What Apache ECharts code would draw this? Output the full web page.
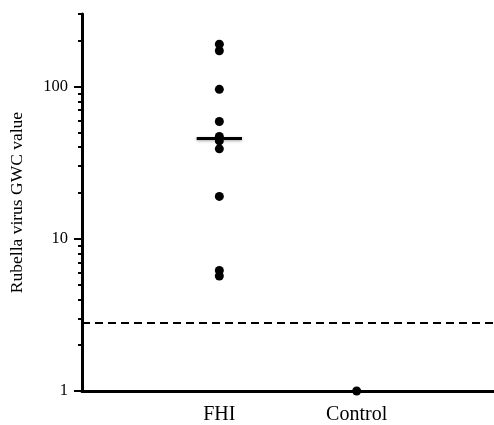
<!DOCTYPE html>
<html>
<head>
<meta charset="utf-8">
<script src="https://cdn.jsdelivr.net/npm/echarts@6/dist/echarts.min.js"></script>
<style>html,body{margin:0;padding:0;background:#fff}#c{width:494px;height:425px}</style>
</head>
<body>
<div id="c"></div>
<script>
const categories = ['FHI', 'Control'];
const fhiValues = [190, 172, 96, 59, 47, 44, 39, 19, 6.2, 5.7];
const controlValues = [1];
const cutoff = 2.8;
const yLabelValues = [1, 10, 100];
const yMinorTickValues = [2,3,4,5,6,7,8,9,20,30,40,50,60,70,80,90,200,300];

function median(a){const s=[...a].sort((x,y)=>x-y);const n=s.length;return n%2?s[(n-1)/2]:(s[n/2-1]+s[n/2])/2;}
const fhiMedian = median(fhiValues);

const font = 'Liberation Serif';
const chart = echarts.init(document.getElementById('c'), null, {renderer:'canvas'});
const yBase = {
  type:'log', logBase:10, min:1, max:300,
  splitLine:{show:false},
  axisLine:{show:true, lineStyle:{color:'#000', width:3}},
};
chart.setOption({
  animation:false,
  textStyle:{fontFamily:font},
  grid:{left:82, right:0, top:14, bottom:34, containLabel:false},
  xAxis:{
    type:'value', min:0, max:3,
    splitLine:{show:false},
    axisLine:{show:true, onZero:false, lineStyle:{color:'#000', width:3}},
    axisTick:{show:false},
    axisLabel:{
      customValues:[1,2],
      formatter:v=>categories[Math.round(v)-1]||'',
      color:'#000', fontFamily:font, fontSize:20, margin:14
    }
  },
  yAxis:[
    Object.assign({}, yBase, {
      name:'Rubella virus GWC value', nameLocation:'middle', nameGap:56,
      nameTextStyle:{color:'#000', fontFamily:font, fontSize:17.5},
      axisTick:{show:true, inside:false, length:8, customValues:yLabelValues, lineStyle:{color:'#000', width:2}},
      axisLabel:{customValues:yLabelValues, color:'#000', fontFamily:font, fontSize:16.5, margin:14}
    }),
    Object.assign({}, yBase, {
      position:'left', offset:0,
      axisLine:{show:false},
      axisTick:{show:true, inside:false, length:4, customValues:yMinorTickValues, lineStyle:{color:'#000', width:2}},
      axisLabel:{show:false}
    })
  ],
  series:[
    {
      type:'scatter', yAxisIndex:0, symbol:'circle', symbolSize:9,
      itemStyle:{color:'#000', opacity:1},
      data:fhiValues.map(v=>[1,v]),
      markLine:{
        silent:true, symbol:'none', label:{show:false},
        lineStyle:{color:'#000', width:3, type:'solid', shadowColor:'rgba(0,0,0,0.35)', shadowBlur:3, shadowOffsetY:1},
        data:[[{coord:[1-0.165, fhiMedian]},{coord:[1+0.165, fhiMedian]}]]
      }
    },
    {
      type:'scatter', yAxisIndex:0, symbol:'circle', symbolSize:9,
      itemStyle:{color:'#000', opacity:1},
      data:controlValues.map(v=>[2,v]),
      clip:false,
      markLine:{
        silent:true, symbol:'none', label:{show:false},
        lineStyle:{color:'#000', width:2, type:[8,5]},
        data:[[{coord:[0, cutoff]},{coord:[3, cutoff]}]]
      }
    }
  ]
});
</script>
</body>
</html>
